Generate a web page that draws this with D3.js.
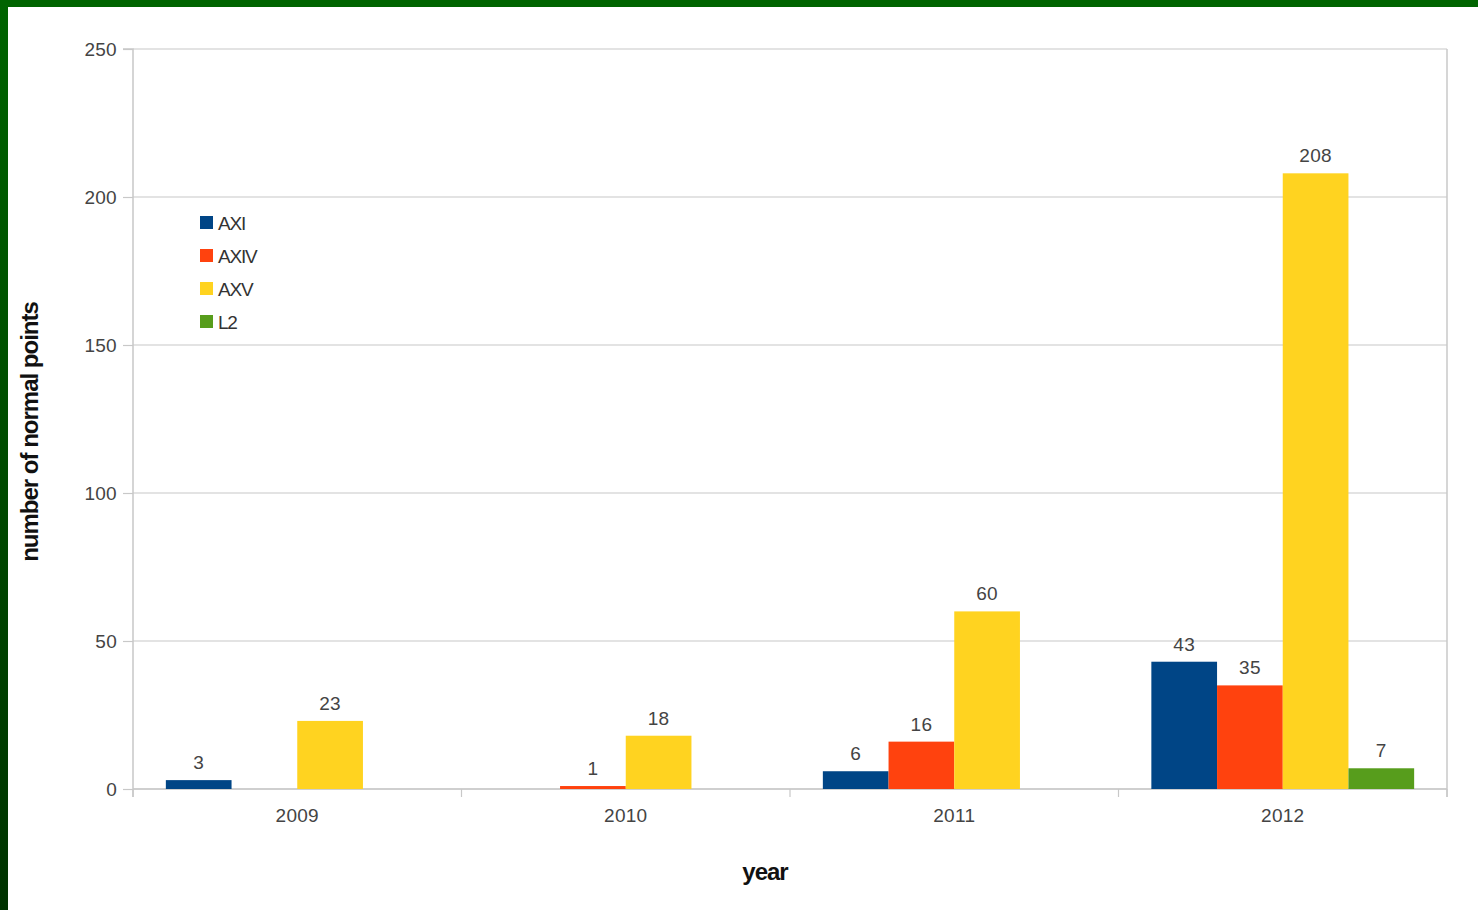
<!DOCTYPE html>
<html><head><meta charset="utf-8">
<script src="https://cdn.jsdelivr.net/npm/d3@7"></script>
<style>html,body{margin:0;padding:0;background:#fff;}svg{display:block;}</style>
</head><body>
<script>
const years = ["2009","2010","2011","2012"];
const seriesNames = ["AXI","AXIV","AXV","L2"];
const seriesColors = ["#004586","#ff420e","#ffd320","#579d1c"];
const AXI  = [3, 0, 6, 43];
const AXIV = [0, 1, 16, 35];
const AXV  = [23, 18, 60, 208];
const L2   = [0, 0, 0, 7];
const yTicks = [0, 50, 100, 150, 200, 250];
const yTitle = "number of normal points";
const xTitle = "year";

const W = 1478, H = 910;
const m = {left:133, right:31, top:49, bottom:121};
const seriesValues = [AXI, AXIV, AXV, L2];
const FONT = "Liberation Sans, Arial, sans-serif";

const svg = d3.select("body").append("svg").attr("width", W).attr("height", H);
const defs = svg.append("defs");
const grad = defs.append("linearGradient").attr("id","lg").attr("x1",0).attr("y1",0).attr("x2",0).attr("y2",1);
grad.append("stop").attr("offset","0%").attr("stop-color","#006400");
grad.append("stop").attr("offset","100%").attr("stop-color","#003300");
svg.append("rect").attr("x",0).attr("y",0).attr("width",W).attr("height",H).attr("fill","#fff");
svg.append("rect").attr("x",0).attr("y",0).attr("width",W).attr("height",7).attr("fill","#006400");
svg.append("rect").attr("x",0).attr("y",0).attr("width",8).attr("height",H).attr("fill","url(#lg)");

const x0 = d3.scaleBand().domain(years).range([m.left, W - m.right]).paddingInner(0).paddingOuter(0);
const x1 = d3.scaleBand().domain(seriesNames).range([0, x0.bandwidth()]).paddingOuter(0.5).paddingInner(0);
const y = d3.scaleLinear().domain([0, 250]).range([H - m.bottom, m.top]);

const g = svg.append("g");
g.selectAll("line.grid").data(yTicks).join("line")
  .attr("x1", m.left).attr("x2", W - m.right)
  .attr("y1", d => y(d)).attr("y2", d => y(d))
  .attr("stroke", "#c8c8c8").attr("stroke-width", 1.2);
g.append("line").attr("x1", W - m.right).attr("x2", W - m.right).attr("y1", m.top).attr("y2", y(0) + 8)
  .attr("stroke", "#c8c8c8").attr("stroke-width", 1.5);

const yAxis = d3.axisLeft(y).tickValues(yTicks).tickSize(10).tickPadding(6);
const ya = svg.append("g").attr("transform", `translate(${m.left},0)`).call(yAxis);
ya.select(".domain").attr("stroke", "#c8c8c8").attr("stroke-width", 1.5).attr("d", `M-10,${m.top}H0V${y(0)+8}`);
ya.selectAll(".tick line").attr("stroke", "#c8c8c8").attr("stroke-width", 1.2);
ya.selectAll(".tick text").attr("font-family", FONT).attr("font-size", 19).attr("letter-spacing", 0.3).attr("fill", "#444");

const xa = svg.append("g").attr("transform", `translate(0,${y(0)})`)
  .call(d3.axisBottom(x0).tickSize(0).tickPadding(20));
xa.select(".domain").remove();
xa.append("line").attr("x1", m.left).attr("x2", W - m.right).attr("y1", 0).attr("y2", 0)
  .attr("stroke", "#c8c8c8").attr("stroke-width", 1.5);
const bounds = years.map(d => x0(d)).concat([x0(years[years.length-1]) + x0.bandwidth()]);
xa.selectAll("line.xt").data(bounds).join("line").attr("class","xt")
  .attr("x1", d => d).attr("x2", d => d).attr("y1", 0).attr("y2", 8)
  .attr("stroke", "#c8c8c8").attr("stroke-width", 1.2);
xa.selectAll(".tick text").attr("font-family", FONT).attr("font-size", 19).attr("letter-spacing", 0.3).attr("fill", "#444");

const data = [];
years.forEach((yr, i) => seriesNames.forEach((s, j) => data.push({yr, s, j, v: seriesValues[j][i]})));
svg.append("g").selectAll("rect").data(data.filter(d => d.v > 0)).join("rect")
  .attr("x", d => x0(d.yr) + x1(d.s))
  .attr("width", x1.bandwidth())
  .attr("y", d => y(d.v))
  .attr("height", d => y(0) - y(d.v))
  .attr("fill", d => seriesColors[d.j]);
svg.append("g").selectAll("text").data(data.filter(d => d.v > 0)).join("text")
  .attr("x", d => x0(d.yr) + x1(d.s) + x1.bandwidth()/2)
  .attr("y", d => y(d.v) - 11)
  .attr("text-anchor", "middle")
  .attr("font-family", FONT).attr("font-size", 19).attr("letter-spacing", 0.3).attr("fill", "#444")
  .text(d => d.v);

const lg = svg.append("g").attr("transform", "translate(200,216)");
seriesNames.forEach((s, i) => {
  lg.append("rect").attr("x", 0).attr("y", i*33).attr("width", 13).attr("height", 13).attr("fill", seriesColors[i]);
  lg.append("text").attr("x", 18).attr("y", i*33 + 13.5)
    .attr("font-family", FONT).attr("font-size", 19).attr("fill", "#333")
    .attr("letter-spacing", -1.2).text(s);
});

svg.append("text").attr("transform", `translate(38,${432}) rotate(-90)`)
  .attr("text-anchor", "middle").attr("font-family", FONT).attr("font-weight", "bold")
  .attr("font-size", 24).attr("fill", "#111").attr("letter-spacing", -1).text(yTitle);
svg.append("text").attr("x", 765).attr("y", 880).attr("text-anchor", "middle")
  .attr("font-family", FONT).attr("font-weight", "bold")
  .attr("font-size", 24).attr("fill", "#111").attr("letter-spacing", -1).text(xTitle);
</script>
</body></html>
